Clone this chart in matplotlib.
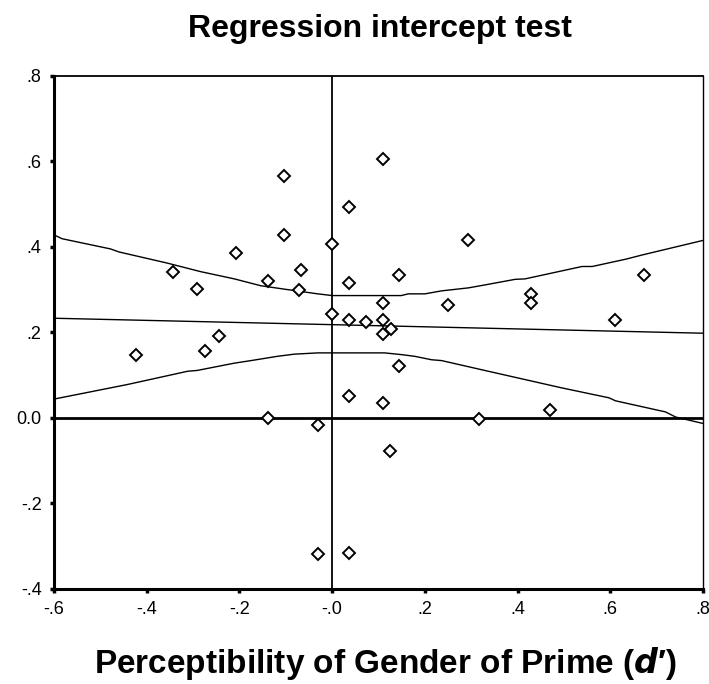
import matplotlib
matplotlib.use("Agg")
import matplotlib.pyplot as plt

plt.rcParams['font.family'] = ['Liberation Sans', 'DejaVu Sans']

# scatter points (d', intercept residual)
pt_x = [-0.424, -0.343, -0.291, -0.275, -0.244, -0.207, -0.139, -0.139,
        -0.103, -0.103, -0.067, -0.071, -0.031, -0.031, 0.000, 0.000,
        0.037, 0.037, 0.037, 0.037, 0.037, 0.074, 0.109, 0.109, 0.109,
        0.109, 0.109, 0.126, 0.125, 0.145, 0.145, 0.249, 0.293, 0.317,
        0.429, 0.429, 0.470, 0.610, 0.673]
pt_y = [0.148, 0.342, 0.302, 0.156, 0.191, 0.385, 0.320, 0.000,
        0.566, 0.428, 0.346, 0.298, -0.017, -0.319, 0.406, 0.242,
        0.493, 0.316, 0.230, 0.052, -0.315, 0.225, 0.605, 0.268, 0.230,
        0.197, 0.036, 0.208, -0.077, 0.333, 0.122, 0.264, 0.416, -0.003,
        0.290, 0.268, 0.019, 0.230, 0.333]

# fitted regression line
fit_x = [-0.6, 0.8]
fit_y = [0.233, 0.198]

# confidence band, upper curve
up_x = [-0.600, -0.583, -0.478, -0.460, -0.356, -0.284, -0.211, -0.154,
        -0.103, -0.031, 0.000, 0.149, 0.164, 0.200, 0.236, 0.294, 0.330,
        0.395, 0.416, 0.539, 0.561, 0.633, 0.669, 0.800]
up_y = [0.428, 0.419, 0.395, 0.388, 0.362, 0.342, 0.325, 0.309,
        0.301, 0.290, 0.286, 0.286, 0.290, 0.290, 0.297, 0.304, 0.311,
        0.324, 0.325, 0.354, 0.354, 0.371, 0.381, 0.415]

# confidence band, lower curve
lo_x = [-0.600, -0.442, -0.312, -0.291, -0.211, -0.175, -0.118, -0.082,
        -0.031, 0.113, 0.149, 0.178, 0.214, 0.236, 0.337, 0.496, 0.597,
        0.611, 0.719, 0.741, 0.800]
lo_y = [0.044, 0.078, 0.109, 0.111, 0.128, 0.134, 0.144, 0.149,
        0.152, 0.152, 0.148, 0.144, 0.136, 0.134, 0.109, 0.070, 0.047,
        0.040, 0.014, 0.002, -0.013]

xticks = [-0.6, -0.4, -0.2, 0.0, 0.2, 0.4, 0.6, 0.8]
xtick_labels = ['-.6', '-.4', '-.2', '-.0', '.2', '.4', '.6', '.8']
yticks = [-0.4, -0.2, 0.0, 0.2, 0.4, 0.6, 0.8]
ytick_labels = ['-.4', '-.2', '0.0', '.2', '.4', '.6', '.8']

fig = plt.figure(figsize=(7.09, 6.84), dpi=100)
ax = fig.add_axes([0.0762, 0.1389, 0.9154, 0.7504])

ax.axhline(0, color='black', lw=2.0, zorder=2)
ax.axvline(0, color='black', lw=1.3, zorder=2)

ax.plot(fit_x, fit_y, color='black', lw=1.0, zorder=3)
ax.plot(up_x, up_y, color='black', lw=1.0, zorder=3)
ax.plot(lo_x, lo_y, color='black', lw=1.0, zorder=3)

ax.plot(pt_x, pt_y, linestyle='none', marker='D', markersize=5.8,
        markerfacecolor='white', markeredgecolor='black',
        markeredgewidth=1.4, zorder=4)

ax.set_xlim(-0.6, 0.8)
ax.set_ylim(-0.4, 0.8)
ax.set_xticks(xticks)
ax.set_xticklabels(xtick_labels, fontsize=13)
ax.set_yticks(yticks)
ax.set_yticklabels(ytick_labels, fontsize=13)
ax.tick_params(direction='out', length=3, width=2.5, pad=6)

ax.spines['left'].set_linewidth(2.2)
ax.spines['bottom'].set_linewidth(2.2)
ax.spines['top'].set_linewidth(1.3)
ax.spines['right'].set_linewidth(1.0)

fig.text(0.536, 0.946, 'Regression intercept test', ha='center',
         va='baseline', fontsize=23, fontweight='bold')
fig.text(0.543, 0.016, "Perceptibility of Gender of Prime ($\\mathbfit{d}$\u2032)",
         ha='center', va='baseline', fontsize=24, fontweight='bold')

fig.savefig('out.png', dpi=100, facecolor='white')
